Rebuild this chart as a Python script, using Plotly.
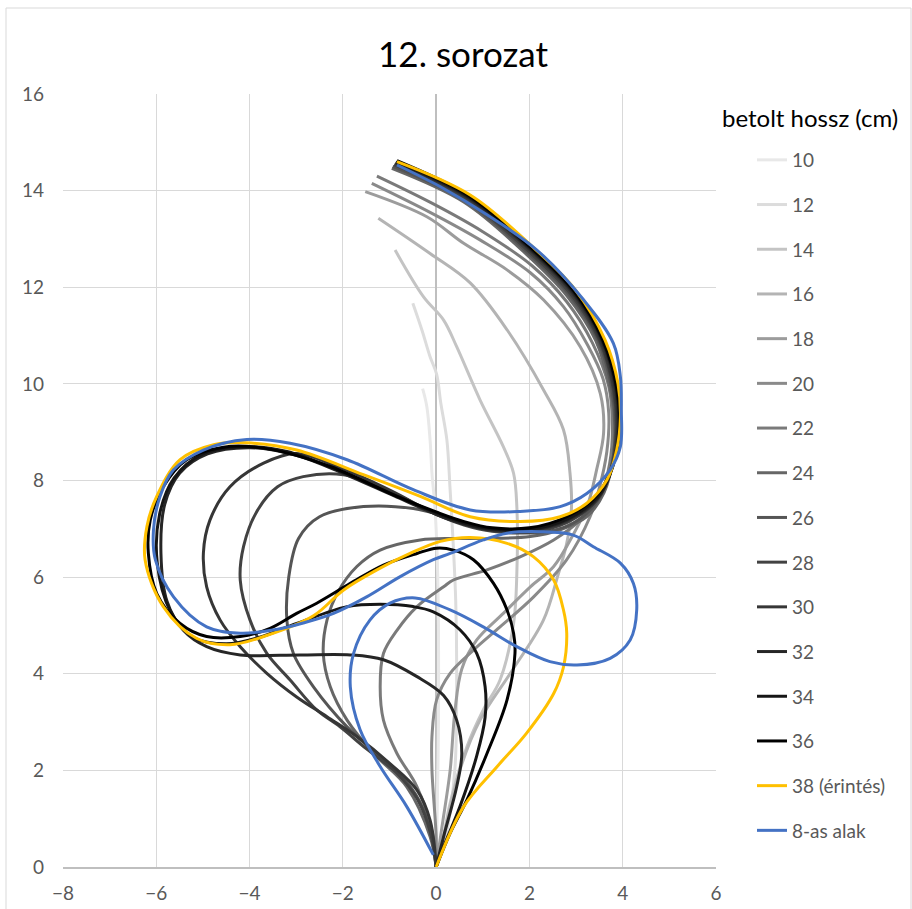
import plotly.graph_objects as go

# ---------------- data ----------------
names = ["10", "12", "14", "16", "18", "20", "22", "24", "26", "28",
         "30", "32", "34", "36", "38 (érintés)", "8-as alak"]

x10 = [0, 0.02, 0.05, 0.05, 0.02, -0.03, -0.09, -0.13, -0.2, -0.29]
y10 = [0, 1.0, 3.0, 5.0, 6.5, 7.5, 8.15, 8.84, 9.53, 9.9]

x12 = [0, 0.2, 0.4, 0.44, 0.42, 0.36, 0.3, 0.23, 0.1, 0.01, -0.13, -0.3, -0.5]
y12 = [0, 0.6, 2.0, 4.0, 5.5, 6.8, 7.8, 8.84, 9.6, 10.2, 10.56, 11.1, 11.67]

x14 = [0, 0.09, 0.3, 0.66, 1.01, 1.37, 1.66, 1.73, 1.73, 1.66, 1.44, 0.94, 0.44, 0.16, -0.27, -0.88]
y14 = [0, 0.28, 1.32, 2.49, 3.25, 3.87, 5.04, 6.08, 7.46, 8.15, 8.7, 9.67, 10.77, 11.32, 11.8, 12.77]

x16 = [0, 0.16, 0.51, 0.94, 1.59, 2.3, 2.6, 2.8, 2.9, 2.87, 2.73, 2.3, 1.52, 0.73, -0.13, -1.24]
y16 = [0, 0.63, 2.01, 3.04, 4.01, 5.11, 6.0, 6.7, 7.4, 8.15, 9.05, 9.88, 11.12, 12.09, 12.7, 13.43]

x18 = [0, 0.12, 0.3, 0.4, 0.55, 0.87, 1.44, 2.02, 2.52, 2.95, 3.25, 3.44, 3.59, 3.52, 3.09, 2.3, 1.52, 0.59, -0.2, -1.52]
y18 = [0, 0.8, 2.0, 3.2, 4.1, 4.7, 5.25, 5.8, 6.22, 6.9, 7.5, 8.22, 8.98, 9.8, 10.77, 11.74, 12.36, 12.91, 13.46, 13.98]

x20 = [0, 0.0, -0.09, -0.09, 0.01, 0.3, 0.8, 1.37, 2.09, 2.8, 3.3, 3.5, 3.66, 3.7, 3.58, 3.25, 2.73, 2.02, 0.94, -0.13, -1.38]
y20 = [0, 0.63, 2.01, 2.7, 3.46, 4.01, 4.49, 4.97, 5.59, 6.36, 7.25, 7.85, 8.6, 9.4, 10.1, 10.8, 11.6, 12.3, 12.98, 13.55, 14.15]

x22 = [0, -0.06, -0.41, -0.84, -1.13, -1.2, -1.13, -0.84, -0.41, 0.16, 0.37, 1.09, 1.8, 2.52, 3.09, 3.52, 3.72, 3.78, 3.7, 3.35, 2.8, 2.05, 1.0, -0.05, -1.27]
y22 = [0, 0.63, 1.66, 2.35, 3.04, 3.73, 4.42, 4.9, 5.39, 5.8, 5.94, 6.15, 6.42, 6.77, 7.18, 7.67, 8.35, 9.1, 9.95, 10.85, 11.7, 12.45, 13.15, 13.72, 14.3]

x24 = [0, -0.13, -0.63, -1.34, -1.91, -2.27, -2.42, -2.34, -2.1, -1.7, -1.2, -0.34, 0.37, 1.09, 2.02, 2.66, 3.23, 3.6, 3.8, 3.82, 3.72, 3.42, 2.8, 1.87, 0.6, -0.95]
y24 = [0, 0.63, 1.66, 2.35, 3.04, 3.73, 4.42, 5.11, 5.7, 6.22, 6.56, 6.77, 6.8, 6.8, 6.84, 6.98, 7.25, 7.75, 8.5, 9.3, 9.95, 10.9, 11.83, 12.74, 13.76, 14.46]

x26 = [0, -0.1, -0.35, -0.8, -1.4, -1.91, -2.63, -3.06, -3.2, -3.16, -2.95, -2.5, -1.56, -0.49, 0.23, 0.8, 1.5, 2.2, 2.9, 3.42, 3.73, 3.84, 3.77, 3.47, 2.84, 1.9, 0.62, -0.93]
y26 = [0, 0.65, 1.35, 1.95, 2.45, 2.9, 3.73, 4.42, 5.11, 6.0, 6.8, 7.25, 7.46, 7.42, 7.25, 7.07, 6.95, 6.92, 7.1, 7.52, 8.17, 9.02, 9.88, 10.9, 11.86, 12.77, 13.79, 14.5]

x28 = [0, -0.12, -0.4, -0.85, -1.5, -2.06, -2.56, -3.13, -3.63, -3.99, -4.2, -4.13, -3.85, -3.4, -2.85, -1.99, -1.0, 0, 0.6, 1.2, 2.0, 2.8, 3.43, 3.75, 3.86, 3.8, 3.5, 2.87, 1.92, 0.64, -0.9]
y28 = [0, 0.7, 1.4, 1.95, 2.45, 2.9, 3.25, 3.87, 4.42, 5.11, 5.94, 6.63, 7.35, 7.87, 8.08, 8.12, 7.78, 7.3, 7.08, 6.95, 6.93, 7.13, 7.58, 8.24, 9.05, 9.88, 10.9, 11.88, 12.8, 13.82, 14.54]

x30 = [0, -0.13, -0.41, -0.99, -1.7, -2.34, -2.99, -3.63, -4.2, -4.63, -4.92, -4.99, -4.85, -4.42, -3.7, -2.99, -2.1, -0.95, 0, 0.6, 1.2, 2.0, 2.8, 3.45, 3.77, 3.88, 3.82, 3.52, 2.9, 1.95, 0.67, -0.88]
y30 = [0, 0.97, 1.59, 2.14, 2.7, 3.11, 3.52, 4.01, 4.56, 5.11, 5.8, 6.5, 7.18, 7.87, 8.36, 8.56, 8.28, 7.78, 7.3, 7.1, 6.97, 6.96, 7.16, 7.6, 8.26, 9.05, 9.88, 10.9, 11.9, 12.82, 13.85, 14.57]

x32 = [0, 0.16, 0.44, 0.55, 0.44, 0.16, -0.41, -1.13, -1.84, -2.92, -4.2, -4.92, -5.42, -5.77, -5.9, -5.82, -5.5, -4.9, -4.0, -3.0, -2.0, -0.9, 0, 0.6, 1.2, 2.0, 2.8, 3.45, 3.78, 3.9, 3.85, 3.55, 2.92, 1.97, 0.69, -0.86]
y32 = [0, 0.63, 1.66, 2.35, 3.04, 3.55, 3.94, 4.29, 4.39, 4.39, 4.39, 4.56, 4.9, 5.5, 6.49, 7.5, 8.15, 8.55, 8.68, 8.52, 8.15, 7.68, 7.3, 7.1, 6.98, 6.97, 7.18, 7.62, 8.28, 9.05, 9.88, 10.9, 11.91, 12.83, 13.86, 14.59]

x34 = [0, 0.16, 0.51, 0.87, 1.05, 1.05, 0.87, 0.51, -0.06, -0.49, -1.2, -1.91, -2.99, -3.8, -4.5, -5.2, -5.7, -5.98, -5.93, -5.62, -5.0, -4.1, -3.2, -2.2, -0.9, 0, 0.6, 1.2, 2.0, 2.8, 3.45, 3.79, 3.92, 3.87, 3.57, 2.94, 1.99, 0.71, -0.85]
y34 = [0, 0.42, 1.25, 2.3, 3.1, 3.73, 4.42, 4.91, 5.28, 5.39, 5.44, 5.39, 5.04, 4.75, 4.62, 4.75, 5.3, 6.3, 7.3, 8.05, 8.55, 8.7, 8.6, 8.25, 7.7, 7.33, 7.12, 7.0, 6.99, 7.2, 7.65, 8.3, 9.05, 9.88, 10.9, 11.92, 12.84, 13.87, 14.6]

x36 = [0, 0.3, 0.66, 1.09, 1.52, 1.69, 1.66, 1.52, 1.23, 0.8, 0.37, 0.01, -0.41, -1.13, -1.84, -2.56, -2.99, -3.56, -4.2, -4.92, -5.49, -5.99, -6.17, -6.13, -5.85, -5.35, -4.56, -3.7, -2.27, -0.84, 0, 0.6, 1.2, 2.0, 2.8, 3.45, 3.8, 3.93, 3.88, 3.58, 2.95, 2.0, 0.73, -0.84]
y36 = [0, 0.7, 1.39, 2.35, 3.46, 4.42, 4.84, 5.32, 5.87, 6.36, 6.56, 6.6, 6.49, 6.25, 5.87, 5.46, 5.25, 4.94, 4.77, 4.77, 5.04, 5.66, 6.49, 7.18, 7.87, 8.43, 8.69, 8.67, 8.29, 7.67, 7.35, 7.15, 7.02, 7.02, 7.25, 7.7, 8.35, 9.05, 9.88, 10.9, 11.93, 12.85, 13.88, 14.62]

x38 = [0, 0.59, 1.3, 1.94, 2.52, 2.73, 2.8, 2.73, 2.52, 2.09, 1.52, 0.73, 0.09, -0.56, -1.27, -1.99, -2.63, -3.7, -4.42, -5.13, -5.85, -6.24, -6.2, -5.99, -5.49, -4.77, -4.06, -2.99, -1.56, -0.34, 0.73, 1.8, 2.66, 3.23, 3.66, 3.87, 3.95, 3.9, 3.62, 2.98, 2.02, 0.73, -0.84]
y38 = [0, 1.25, 2.07, 2.77, 3.59, 4.14, 4.84, 5.32, 5.94, 6.42, 6.7, 6.82, 6.74, 6.49, 6.15, 5.73, 5.2, 4.77, 4.6, 4.73, 5.39, 6.36, 7.05, 7.67, 8.43, 8.74, 8.78, 8.63, 8.12, 7.67, 7.25, 7.15, 7.25, 7.53, 8.01, 8.63, 9.3, 10.0, 10.91, 11.95, 12.88, 13.91, 14.6]

x8 = [-0.06, -0.63, -1.2, -1.63, -1.84, -1.77, -1.42, -0.99, -0.45, 0.3, 1.01, 1.73, 2.44, 3.02, 3.73, 4.16, 4.3, 4.23, 3.95, 3.37, 2.94, 2.23, 1.52, 1.01, 0.3, -0.06, -0.77, -1.49, -2.2, -2.85, -3.4, -4.2, -4.92, -5.63, -6.02, -6.06, -5.92, -5.63, -4.99, -4.06, -3.13, -1.91, -0.49, 0.73, 1.8, 2.66, 3.23, 3.73, 3.95, 3.97, 3.95, 3.8, 3.16, 2.16, 1.09, 0.09, -0.84]
y8 = [0.25, 1.25, 2.08, 2.84, 3.73, 4.42, 5.11, 5.46, 5.57, 5.32, 4.97, 4.56, 4.25, 4.18, 4.32, 4.7, 5.32, 5.87, 6.29, 6.63, 6.87, 6.94, 6.91, 6.77, 6.49, 6.36, 6.01, 5.59, 5.25, 5.05, 4.92, 4.84, 4.97, 5.59, 6.36, 6.98, 7.67, 8.22, 8.63, 8.85, 8.77, 8.43, 7.81, 7.39, 7.36, 7.46, 7.73, 8.22, 8.7, 9.46, 10.15, 10.84, 11.74, 12.77, 13.5, 14.08, 14.53]

xs = [x10, x12, x14, x16, x18, x20, x22, x24, x26, x28, x30, x32, x34, x36, x38, x8]
ys = [y10, y12, y14, y16, y18, y20, y22, y24, y26, y28, y30, y32, y34, y36, y38, y8]

x_ticks = [-8, -6, -4, -2, 0, 2, 4, 6]
y_ticks = [0, 2, 4, 6, 8, 10, 12, 14, 16]

# ---------------- styles ----------------
colors = ["#e8e8e8", "#dcdcdc", "#c4c4c4", "#b4b4b4", "#9c9c9c", "#8a8a8a",
          "#7a7a7a", "#666666", "#555555", "#424242", "#363636", "#262626",
          "#161616", "#000000", "#ffc000", "#4472c4"]
FONT = "Lato, 'Open Sans', sans-serif"

fig = go.Figure()
for i, (nm, xx, yy) in enumerate(zip(names, xs, ys)):
    fig.add_trace(go.Scatter(
        x=xx, y=yy, mode="lines", name=nm, legendgroup=nm,
        line=dict(color=colors[i], width=3, shape="spline", smoothing=1.0),
        hoverinfo="skip"))

fig.update_layout(
    width=912, height=909,
    margin=dict(l=63, r=196, t=94, b=42, autoexpand=False),
    paper_bgcolor="white", plot_bgcolor="white",
    font=dict(family=FONT, size=19, color="#595959"),
    title=dict(text="12. sorozat", x=463 / 912, xref="container", xanchor="center",
               y=1 - 55 / 909, yref="container", yanchor="middle",
               font=dict(family=FONT, size=35, color="#000000")),
    showlegend=True,
    legend=dict(x=(752 - 63) / 653, xanchor="left", y=(867 - 141) / 773, yanchor="top",
                traceorder="grouped", tracegroupgap=17,
                font=dict(family=FONT, size=19, color="#595959"),
                bgcolor="rgba(0,0,0,0)", borderwidth=0),
    xaxis=dict(range=[-8, 6], tickmode="array", tickvals=x_ticks, automargin=False,
               showgrid=True, gridcolor="#d9d9d9", gridwidth=1.3,
               zeroline=True, zerolinecolor="#bfbfbf", zerolinewidth=1.5,
               showline=True, linecolor="#bfbfbf", linewidth=1.5, mirror=False,
               ticks="", ticklabelstandoff=8, fixedrange=True),
    yaxis=dict(range=[0, 16], tickmode="array", tickvals=y_ticks, automargin=False,
               showgrid=True, gridcolor="#d9d9d9", gridwidth=1.3,
               zeroline=False, showline=False,
               ticks="", ticklabelstandoff=18, fixedrange=True),
    annotations=[dict(text="betolt hossz (cm)", xref="paper", yref="paper",
                      x=(720 - 63) / 653, y=(867 - 118) / 773, xanchor="left", yanchor="middle",
                      showarrow=False, font=dict(family=FONT, size=24, color="#000000"))],
    shapes=[dict(type="rect", xref="paper", yref="paper",
                 x0=(6 - 63) / 653, x1=(911 - 63) / 653,
                 y0=(867 - 912) / 773, y1=(867 - 8) / 773,
                 line=dict(color="#d9d9d9", width=1), fillcolor="rgba(0,0,0,0)",
                 layer="below")],
)

fig.write_html("out.html", config={"displayModeBar": False},
               post_script="document.body.style.margin='0';")
